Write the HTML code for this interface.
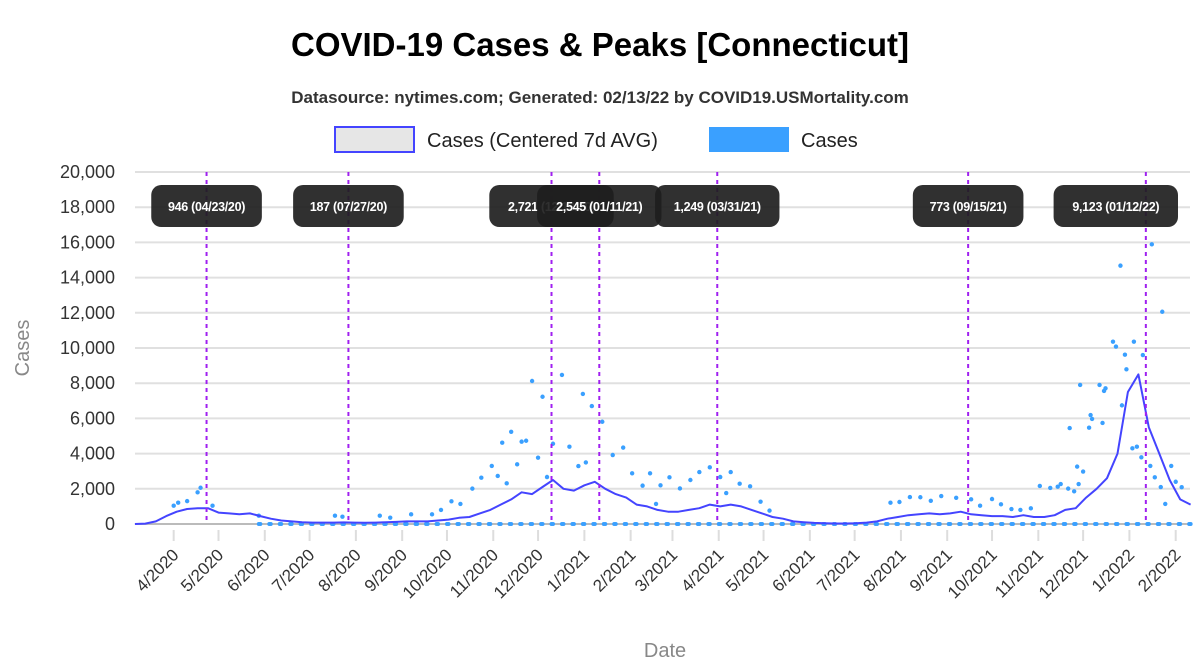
<!DOCTYPE html>
<html><head><meta charset="utf-8"><style>
body{margin:0;background:#fff;}
svg{display:block;font-family:"Liberation Sans",Arial,sans-serif;}
</style></head><body>
<svg id="chart" width="1200" height="670" viewBox="0 0 1200 670">
<text x="600" y="56" text-anchor="middle" font-size="33" font-weight="bold" fill="#000">COVID-19 Cases &amp; Peaks [Connecticut]</text>
<text x="600" y="103" text-anchor="middle" font-size="17" font-weight="bold" fill="#333">Datasource: nytimes.com; Generated: 02/13/22 by COVID19.USMortality.com</text>
<g>
<g><rect x="335" y="127" width="79" height="25" fill="#e6e6e6" stroke="#4444ff" stroke-width="2"/><text x="427" y="147" font-size="20" fill="#222">Cases (Centered 7d AVG)</text></g>
<g><rect x="709" y="127" width="80" height="25" fill="#3aa0ff"/><text x="801" y="147" font-size="20" fill="#222">Cases</text></g>
</g>
<g id="grid"></g>
<g id="yaxis"></g>
<g id="xaxis"></g>
<text x="0" y="0" transform="translate(29,348) rotate(-90)" text-anchor="middle" font-size="20" fill="#888">Cases</text>
<text x="665" y="657" text-anchor="middle" font-size="20" fill="#888">Date</text>
<g id="marks"></g>
<g id="peaks"></g>
</svg>
<script>
// day index: 0 = 2020-03-01
const yTicks = [0,2000,4000,6000,8000,10000,12000,14000,16000,18000,20000];
const xTickLabels = ["4/2020","5/2020","6/2020","7/2020","8/2020","9/2020","10/2020","11/2020","12/2020","1/2021","2/2021","3/2021","4/2021","5/2021","6/2021","7/2021","8/2021","9/2021","10/2021","11/2021","12/2021","1/2022","2/2022"];
const xTickDays = [31,61,92,122,153,184,214,245,275,306,337,365,396,426,457,487,518,549,579,610,640,671,702];
const avgStartDay = 5;
const avgStepDays = 7;
const avgValues = [0,20,150,450,700,850,900,900,650,600,550,600,450,300,200,150,100,80,80,80,90,80,70,80,100,120,150,150,150,200,250,350,400,600,800,1100,1400,1800,1700,2100,2500,2000,1900,2200,2400,2000,1700,1500,1100,1000,800,700,700,800,900,1100,1000,1100,1000,800,600,400,300,150,100,60,40,30,30,40,80,150,300,400,500,550,600,550,600,700,550,500,450,450,400,500,400,400,500,800,900,1500,2000,2600,4000,7500,8500,5500,4000,2500,1400,1100];
const caseDays = [271,291,278,305,311,318,332,325,257,251,264,267,285,296,244,261,275,237,248,231,217,223,302,307,338,345,281,254,34,31,40,47,49,57,88,139,144,169,176,190,204,210,350,357,363,370,377,383,390,397,404,410,417,424,354,401,430,511,517,524,531,538,545,555,565,571,579,585,592,598,605,611,618,625,631,638,645,646,653,654,655,660,662,666,668,669,673,676,679,685,688,692,695,636,640,665,686,693,674,651,644,623,630,634,637,699,702,706,680];
const caseValues = [8125,8470,7230,7390,6700,5810,4340,3920,5240,4620,4680,4730,4560,4390,3300,3390,3770,2630,2730,2010,1290,1140,3290,3500,2880,2180,2670,2310,1210,1040,1300,1800,2060,1040,470,470,415,470,360,550,550,800,2880,2200,2650,2020,2500,2950,3220,2670,2950,2290,2140,1270,1140,1760,760,1210,1250,1530,1520,1320,1590,1490,1400,1040,1420,1120,850,800,890,2160,2050,2270,5450,7900,6190,5970,5740,7560,7710,10360,10080,6740,9620,8790,4300,4390,3790,3300,2650,2100,1140,3260,2980,14680,15890,12060,10360,7900,5470,2120,2010,1860,2270,3300,2400,2090,9600];
const zeroDays = [88,95,102,109,116,123,130,137,144,151,158,165,172,179,186,193,200,207,214,221,228,235,242,249,256,263,270,277,284,291,298,305,312,319,326,333,340,347,354,361,368,375,382,389,396,403,410,417,424,431,438,445,452,459,466,473,480,487,494,501,508,515,522,529,536,543,550,557,564,571,578,585,592,599,606,613,620,627,634,641,648,655,662,669,676,683,690,697,704,711];
const peakDays = [53,148,284,316,395,563,682];
const peakLabels = ["946 (04/23/20)","187 (07/27/20)","2,721 (12/10/20)","2,545 (01/11/21)","1,249 (03/31/21)","773 (09/15/21)","9,123 (01/12/22)"];

const NS="http://www.w3.org/2000/svg";
const X0=135, X1=1190, Y0=524, Y1=172;
function xs(d){return 173.7+(d-31)*1.4933;}
function ys(v){return Y0-(v/20000)*(Y0-Y1);}
function mk(tag,attrs,parent){const e=document.createElementNS(NS,tag);for(const k in attrs)e.setAttribute(k,attrs[k]);parent.appendChild(e);return e;}
const grid=document.getElementById('grid'),yax=document.getElementById('yaxis'),xax=document.getElementById('xaxis'),marks=document.getElementById('marks'),peaks=document.getElementById('peaks');
yTicks.forEach(t=>{
  const l=mk('line',{x1:X0,x2:X1,y1:ys(t),y2:ys(t),stroke:t===0?'#bbb':'#e0e0e0','stroke-width':2},grid);
  
  
  const tx=mk('text',{x:115,y:ys(t)+6,'text-anchor':'end','font-size':18,fill:'#333'},yax);
  tx.textContent=t.toLocaleString('en-US');
  
  
});
xTickDays.forEach((d,i)=>{
  const x=xs(d);
  const l=mk('line',{x1:x,x2:x,y1:530,y2:541,stroke:'#ddd','stroke-width':2},xax);
  
  
  const tx=mk('text',{x:0,y:0,transform:`translate(${x+6},${556}) rotate(-45)`,'text-anchor':'end','font-size':17,fill:'#333'},xax);
  tx.textContent=xTickLabels[i];
  
  
});
zeroDays.forEach(d=>{[d,d+1].forEach(dd=>{
  const c=mk('circle',{cx:xs(dd),cy:ys(0),r:2,fill:'#3aa0ff'},marks);
  
  
});});
caseDays.forEach((d,i)=>{
  const c=mk('circle',{cx:xs(d),cy:ys(caseValues[i]),r:2.2,fill:'#3aa0ff'},marks);
  
  
});
const pts=avgValues.map((v,i)=>xs(avgStartDay+i*avgStepDays).toFixed(1)+','+ys(v).toFixed(1)).join(' ');
const pl=mk('polyline',{points:pts,fill:'none',stroke:'#4444ff','stroke-width':2,'stroke-linejoin':'round'},marks);


peakDays.forEach(d=>{
  const l=mk('line',{x1:xs(d),x2:xs(d),y1:Y1,y2:Y0,stroke:'#a020f0','stroke-width':2,'stroke-dasharray':'4,4'},peaks);
  
  
});
peakDays.forEach((d,i)=>{
  const w=peakLabels[i].length*6.9+14;
  let cx=xs(d);
  if(cx+w/2>1178) cx=1178-w/2;
  const g=mk('g',{},peaks);
  
  
  mk('rect',{x:cx-w/2,y:185,width:w,height:42,rx:10,fill:'rgba(30,30,30,0.92)'},g);
  const t=mk('text',{x:cx,y:211,'text-anchor':'middle','font-size':12.5,'font-weight':'bold',fill:'#fff','letter-spacing':'-0.3'},g);
  t.textContent=peakLabels[i];
});
</script>
</body></html>
